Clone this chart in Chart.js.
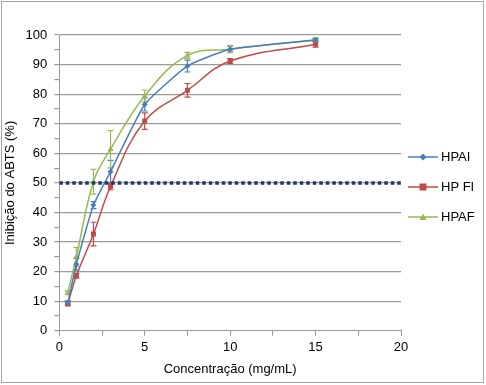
<!DOCTYPE html>
<html>
<head>
<meta charset="utf-8">
<script src="https://cdn.jsdelivr.net/npm/chart.js@4"></script>
<style>
  body { margin: 0; background: #fff; }
  #wrap { width: 486px; height: 385px; }
</style>
</head>
<body>
<div id="wrap"><canvas id="abtsChart" width="486" height="385"></canvas></div>
<script>
const concentrations = [0.5, 1, 2, 3, 5, 7.5, 10, 15];
const seriesNames = ['HPAI', 'HP FI', 'HPAF'];
const hpaiValues = [9.5, 22.5, 42.5, 53.8, 76.5, 89.5, 95.2, 98.3];
const hpaiErrors = [0.5, 2.0, 1.2, 3.8, 2.2, 2.0, 1.0, 0.5];
const hpflValues = [9.2, 18.6, 32.7, 48.8, 70.9, 81.3, 91.2, 96.9];
const hpflErrors = [0.8, 0.8, 4.0, 1.2, 2.8, 2.3, 0.8, 1.0];
const hpafValues = [12.9, 25.0, 50.4, 61.4, 79.4, 93.1, 95.2, 98.3];
const hpafErrors = [0.7, 3.2, 4.2, 6.3, 2.0, 1.0, 1.2, 0.8];
const thresholdX = [0, 20];
const thresholdY = [50, 50];

const colors = ['#4A7EBB', '#BE4B48', '#98B954'];
const markers = ['rectRot', 'rect', 'triangle'];

function toPoints(xs, ys) {
    return xs.map((x, i) => ({ x: x, y: ys[i] }));
}

const font = { family: 'Liberation Sans, Arial, sans-serif', size: 13 };

// marker shape used in the legend
function drawMarker(g, marker, cx, cy) {
    g.beginPath();
    if (marker === 'rectRot') { g.moveTo(cx, cy - 3.5); g.lineTo(cx + 3.5, cy); g.lineTo(cx, cy + 3.5); g.lineTo(cx - 3.5, cy); }
    else if (marker === 'rect') { g.rect(cx - 3.5, cy - 3.5, 7, 7); }
    else { g.moveTo(cx, cy - 3.5); g.lineTo(cx + 3.5, cy + 3); g.lineTo(cx - 3.5, cy + 3); }
    g.closePath();
    g.fill();
}

const errorBars = {
    id: 'errorBars',
    beforeDatasetsDraw(chart) {
        const ctx = chart.ctx;
        const xs = chart.scales.x, ys = chart.scales.y;
        chart.data.datasets.forEach(ds => {
            if (!ds.errors) return;
            ctx.save();
            ctx.strokeStyle = ds.borderColor;
            ctx.lineWidth = 1.2;
            ds.data.forEach((p, i) => {
                const px = xs.getPixelForValue(p.x);
                const top = ys.getPixelForValue(p.y + ds.errors[i]);
                const bot = ys.getPixelForValue(p.y - ds.errors[i]);
                ctx.beginPath();
                ctx.moveTo(px, top); ctx.lineTo(px, bot);
                ctx.moveTo(px - 3, top); ctx.lineTo(px + 3, top);
                ctx.moveTo(px - 3, bot); ctx.lineTo(px + 3, bot);
                ctx.stroke();
            });
            ctx.restore();
        });
    }
};

// legend on the right: line + marker, then the series name
const sideLegend = {
    id: 'sideLegend',
    afterDraw(chart) {
        const ctx = chart.ctx;
        const x0 = chart.chartArea.right + 7;
        ctx.save();
        ctx.font = font.size + 'px ' + font.family;
        ctx.textBaseline = 'middle';
        chart.data.datasets.forEach(ds => {
            if (ds.legendRow === undefined) return;
            const y = 157 + ds.legendRow * 30;
            ctx.strokeStyle = ds.borderColor;
            ctx.fillStyle = ds.borderColor;
            ctx.lineWidth = 1.5;
            ctx.beginPath(); ctx.moveTo(x0, y); ctx.lineTo(x0 + 30, y); ctx.stroke();
            drawMarker(ctx, ds.pointStyle, x0 + 15, y);
            ctx.fillStyle = '#000';
            ctx.fillText(ds.label, x0 + 33, y);
        });
        ctx.restore();
    }
};

const outerBorder = {
    id: 'outerBorder',
    afterDraw(chart) {
        const ctx = chart.ctx;
        ctx.save();
        ctx.strokeStyle = '#a6a6a6';
        ctx.lineWidth = 1;
        ctx.strokeRect(1.5, 1.5, 482, 381);
        ctx.restore();
    }
};

const valueSets = [hpaiValues, hpflValues, hpafValues];
const errorSets = [hpaiErrors, hpflErrors, hpafErrors];
const tensions = [0.15, 0.4, 0.4];

const datasets = [{
    label: '50%',
    data: toPoints(thresholdX, thresholdY),
    borderColor: '#1F3864',
    borderWidth: 3.5,
    borderDash: [3.5, 3],
    pointRadius: 0,
    showLine: true,
    fill: false
}];
seriesNames.forEach((name, k) => {
    datasets.push({
        label: name,
        legendRow: k,
        data: toPoints(concentrations, valueSets[k]),
        errors: errorSets[k],
        borderColor: colors[k],
        backgroundColor: colors[k],
        borderWidth: 1.5,
        pointStyle: markers[k],
        pointRadius: k === 0 ? 3 : 3.5,
        pointBorderWidth: 0,
        tension: tensions[k],
        showLine: true,
        fill: false
    });
});

new Chart(document.getElementById('abtsChart'), {
    type: 'scatter',
    data: { datasets: datasets },
    options: {
        responsive: false,
        animation: false,
        layout: { padding: { left: 1, right: 85, top: 35, bottom: 4 } },
        plugins: {
            tooltip: { enabled: false },
            legend: { display: false }
        },
        scales: {
            x: {
                type: 'linear',
                min: 0, max: 20,
                ticks: {
                    stepSize: 2.5,
                    color: '#000',
                    font: font,
                    maxRotation: 0,
                    autoSkip: false,
                    padding: 4,
                    callback: v => (v % 5 === 0 ? v : '')
                },
                grid: { drawOnChartArea: false, color: '#9a9a9a', tickLength: 5 },
                border: { color: '#9a9a9a' },
                title: { display: true, text: 'Concentração (mg/mL)', color: '#000', font: font, padding: { top: 2 } }
            },
            y: {
                min: 0, max: 100,
                ticks: {
                    stepSize: 5,
                    color: '#000',
                    font: font,
                    autoSkip: false,
                    padding: 7,
                    callback: v => (v % 10 === 0 ? v : '')
                },
                grid: {
                    color: c => (c.tick && c.tick.value % 10 === 0 && c.tick.value > 0 ? '#9a9a9a' : 'rgba(0,0,0,0)'),
                    tickColor: '#9a9a9a',
                    tickLength: 5,
                    lineWidth: 1.2
                },
                border: { color: '#9a9a9a' },
                title: { display: true, text: 'Inibição do ABTS (%)', color: '#000', font: font, padding: { top: 2, bottom: 0 } }
            }
        }
    },
    plugins: [errorBars, sideLegend, outerBorder]
});
</script>
</body>
</html>
